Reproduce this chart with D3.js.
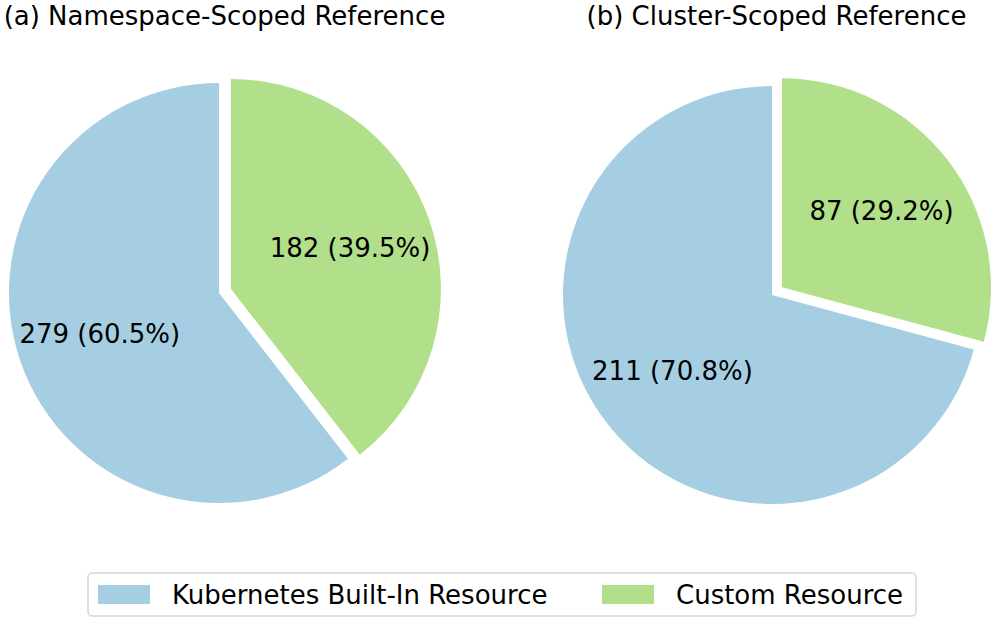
<!DOCTYPE html>
<html><head><meta charset="utf-8">
<script src="https://cdn.jsdelivr.net/npm/d3@7"></script>
<style>body{margin:0;background:#fff}svg{display:block}text{font-family:"DejaVu Sans",sans-serif;fill:#000}</style>
</head><body>
<script>
const categories = ["Kubernetes Built-In Resource", "Custom Resource"];
const colors = ["#a6cee3", "#b2df8a"];
const panelTitles = ["(a) Namespace-Scoped Reference", "(b) Cluster-Scoped Reference"];
const namespaceValues = [279, 182];
const clusterValues = [211, 87];

const W = 996, H = 625, FS = 26;
const svg = d3.select("body").append("svg").attr("width", W).attr("height", H);

const panels = [
  {title: panelTitles[0], values: namespaceValues, cx: 219, cy: 293, r: 210, tx: 224.5},
  {title: panelTitles[1], values: clusterValues, cx: 772, cy: 295, r: 209, tx: 776.5}
];

const pie = d3.pie().sort(null).startAngle(0).endAngle(-2 * Math.PI);

panels.forEach(p => {
  const g = svg.append("g").attr("transform", `translate(${p.cx},${p.cy})`);
  const total = d3.sum(p.values);
  const arcs = pie(p.values);
  const arc = d3.arc().innerRadius(0).outerRadius(p.r);
  const explode = [0, 0.06];
  arcs.forEach((a, i) => {
    const mid = (a.startAngle + a.endAngle) / 2;
    const dx = Math.sin(mid), dy = -Math.cos(mid);
    const off = explode[i] * p.r;
    const wg = g.append("g").attr("transform", `translate(${dx * off},${dy * off})`);
    wg.append("path").attr("d", arc(a)).attr("fill", colors[i]);
    const lr = 0.6 * p.r;
    wg.append("text")
      .attr("x", dx * lr).attr("y", dy * lr)
      .attr("text-anchor", "middle").attr("dominant-baseline", "central")
      .style("font-size", FS + "px")
      .text(`${p.values[i]} (${(100 * p.values[i] / total).toFixed(1)}%)`);
  });
  svg.append("text").attr("x", p.tx).attr("y", 25).attr("text-anchor", "middle")
    .style("font-size", FS + "px").text(p.title);
});

// legend
const lg = svg.append("g");
lg.append("rect").attr("x", 88).attr("y", 573).attr("width", 828).attr("height", 43)
  .attr("rx", 4).attr("fill", "#fff").attr("stroke", "#d6d6d6").attr("stroke-width", 1.5);
const itemX = [98, 602];
categories.forEach((c, i) => {
  lg.append("rect").attr("x", itemX[i]).attr("y", 585).attr("width", 52).attr("height", 19).attr("fill", colors[i]);
  lg.append("text").attr("x", itemX[i] + 74).attr("y", 594.5).attr("dominant-baseline", "central")
    .style("font-size", FS + "px").text(c);
});
</script>
</body></html>
